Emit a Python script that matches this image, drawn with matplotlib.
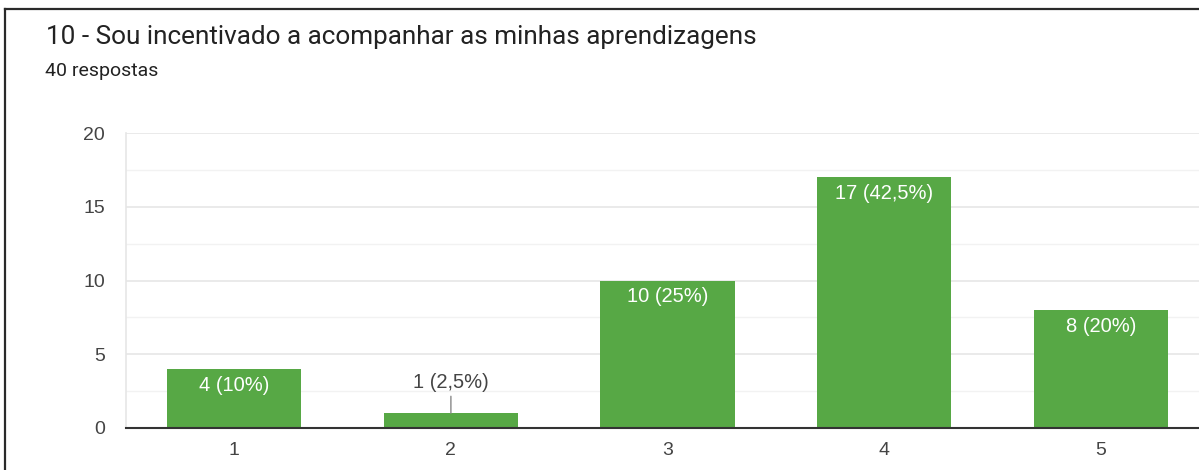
import matplotlib.pyplot as plt
from matplotlib.lines import Line2D

TITLE = "10 - Sou incentivado a acompanhar as minhas aprendizagens"
SUBTITLE = "40 respostas"
CATEGORIES = ["1", "2", "3", "4", "5"]
COUNTS = [4, 1, 10, 17, 8]
LABELS = ["4 (10%)", "1 (2,5%)", "10 (25%)", "17 (42,5%)", "8 (20%)"]
YTICKS = [0, 5, 10, 15, 20]

GREEN = '#57a845'
TEXT = '#222222'
AXISTEXT = '#444444'
CHARTFONT = ['Liberation Sans', 'DejaVu Sans']


def main():
    plt.rcParams['font.family'] = ['Roboto', 'DejaVu Sans']

    fig = plt.figure(figsize=(11.99, 4.70), dpi=100)
    fig.patch.set_facecolor('white')

    # card border (left and top visible, the rest is cropped)
    fig.add_artist(Line2D([4.5 / 1199, 4.5 / 1199], [0, 1 - 9 / 470],
                          transform=fig.transFigure, color='#2a2a2a', lw=1.6))
    fig.add_artist(Line2D([4.5 / 1199, 1], [1 - 9 / 470, 1 - 9 / 470],
                          transform=fig.transFigure, color='#2a2a2a', lw=1.6))

    fig.text(46 / 1199, 1 - 37 / 470, TITLE, fontsize=18.8, color=TEXT, va='center')
    fig.text(45 / 1199, 1 - 71 / 470, SUBTITLE, fontsize=14, color=TEXT, va='center')

    ax = fig.add_axes([126 / 1199, 1 - 428 / 470, 1083 / 1199, 295 / 470])
    x = list(range(1, len(CATEGORIES) + 1))
    ax.bar(x, COUNTS, width=0.62, color=GREEN, zorder=3)

    ax.set_xlim(0.5, 5.5)
    ax.set_ylim(0, 20)
    ax.set_xticks(x)
    ax.set_xticklabels(CATEGORIES, family=CHARTFONT)
    ax.set_yticks(YTICKS)
    ax.set_yticklabels([str(v) for v in YTICKS], family=CHARTFONT)
    ax.set_yticks([2.5, 7.5, 12.5, 17.5], minor=True)
    ax.tick_params(axis='both', which='both', length=0, labelsize=14, colors=AXISTEXT)
    ax.tick_params(axis='y', pad=15)
    ax.tick_params(axis='x', pad=10)
    ax.grid(axis='y', which='major', color='#e6e6e6', lw=1.2, zorder=0)
    ax.grid(axis='y', which='minor', color='#f2f2f2', lw=1.0, zorder=0)

    for side in ['top', 'right']:
        ax.spines[side].set_visible(False)
    ax.spines['left'].set_color('#e6e6e6')
    ax.spines['left'].set_linewidth(1.2)
    ax.spines['bottom'].set_color('#333333')
    ax.spines['bottom'].set_linewidth(1.5)
    ax.spines['bottom'].set_zorder(4)

    for xi, count, label in zip(x, COUNTS, LABELS):
        if count >= 3:
            ax.annotate(label, (xi, count), xytext=(0, -5), textcoords='offset points',
                        ha='center', va='top', color='white', fontsize=14.5,
                        family=CHARTFONT, zorder=5)
        else:
            ax.annotate(label, (xi, count), xytext=(0, 22), textcoords='offset points',
                        ha='center', va='center', color=AXISTEXT, fontsize=14.5,
                        family=CHARTFONT, zorder=5)
            ax.annotate('', (xi, count), xytext=(xi, count + 1.15),
                        arrowprops=dict(arrowstyle='-', color='#888888', lw=1.0,
                                        shrinkA=0, shrinkB=0), zorder=5)

    plt.savefig('out.png', dpi=100)


if __name__ == '__main__':
    main()
